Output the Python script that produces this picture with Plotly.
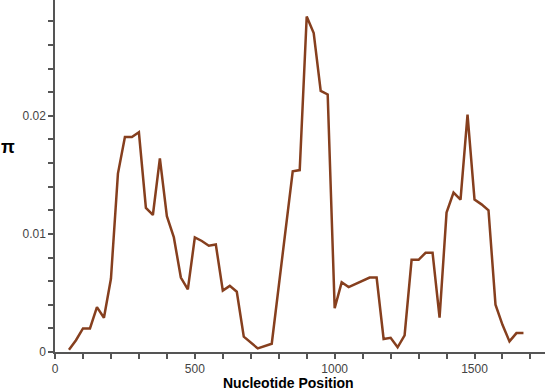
import plotly.graph_objects as go

# Nucleotide diversity (pi) along the sequence
position = [50, 75, 100, 125, 150, 175, 200, 225, 250, 275, 300, 325, 350, 375, 400,
            425, 450, 475, 500, 525, 550, 575, 600, 625, 650, 675, 725, 775, 850, 875,
            900, 925, 950, 975, 1000, 1025, 1050, 1125, 1150, 1175, 1200, 1225, 1250,
            1275, 1300, 1325, 1350, 1375, 1400, 1425, 1450, 1475, 1500, 1525, 1550,
            1575, 1600, 1625, 1650, 1675]
pi_values = [0.0002, 0.0010, 0.0020, 0.0020, 0.0038, 0.0029, 0.0062, 0.0151, 0.0182,
             0.0182, 0.0186, 0.0122, 0.0116, 0.0164, 0.0115, 0.0097, 0.0063, 0.0053,
             0.0097, 0.0094, 0.0090, 0.0091, 0.0052, 0.0056, 0.0051, 0.0013, 0.0003,
             0.0007, 0.0153, 0.0154, 0.0284, 0.0270, 0.0221, 0.0218, 0.0037, 0.0059,
             0.0055, 0.0063, 0.0063, 0.0011, 0.0012, 0.0004, 0.0014, 0.0078, 0.0078,
             0.0084, 0.0084, 0.0029, 0.0118, 0.0135, 0.0129, 0.0201, 0.0129, 0.0125,
             0.0120, 0.0040, 0.0023, 0.0009, 0.0016, 0.0016]

x_ticks = [0, 500, 1000, 1500]
y_ticks = [0, 0.01, 0.02]
y_tick_text = ["0", "0.01", "0.02"]

fig = go.Figure()
fig.add_trace(go.Scatter(
    x=position, y=pi_values, mode="lines",
    line=dict(color="#863f1e", width=2.5),
    hoverinfo="x+y", showlegend=False
))

axis_style = dict(
    showgrid=False, zeroline=False, showline=True,
    linecolor="#555555", linewidth=1.5,
    ticks="outside", tickcolor="#555555", ticklen=5, tickwidth=1.5,
    tickfont=dict(family="Liberation Sans, Arial", size=12, color="#444444"),
)

fig.update_xaxes(range=[0, 1752], tickvals=x_ticks,
                 minor=dict(dtick=100, tick0=0, ticks="outside", ticklen=5,
                            tickcolor="#555555", tickwidth=1.5),
                 **axis_style)
fig.update_yaxes(range=[0, 0.0298], tickvals=y_ticks, ticktext=y_tick_text,
                 minor=dict(dtick=0.002, tick0=0, ticks="outside", ticklen=5,
                            tickcolor="#555555", tickwidth=1.5),
                 **axis_style)

fig.update_layout(
    width=550, height=390,
    margin=dict(l=55, r=5, t=0, b=38),
    paper_bgcolor="white", plot_bgcolor="white",
    annotations=[
        dict(text="<b>Nucleotide Position</b>", xref="paper", yref="paper",
             x=0.476, y=-0.087, xanchor="center", yanchor="middle", showarrow=False,
             font=dict(family="Liberation Sans, Arial", size=14, color="black")),
        dict(text="<b>π</b>", xref="paper", yref="paper",
             x=-0.096, y=0.582, xanchor="center", yanchor="middle", showarrow=False,
             font=dict(family="Liberation Sans, Arial", size=18, color="black")),
    ],
)

# drop the default page margin so the figure sits at the window's corner
fig.write_html("out.html", config={"displayModeBar": False},
               post_script="document.body.style.margin='0';")
